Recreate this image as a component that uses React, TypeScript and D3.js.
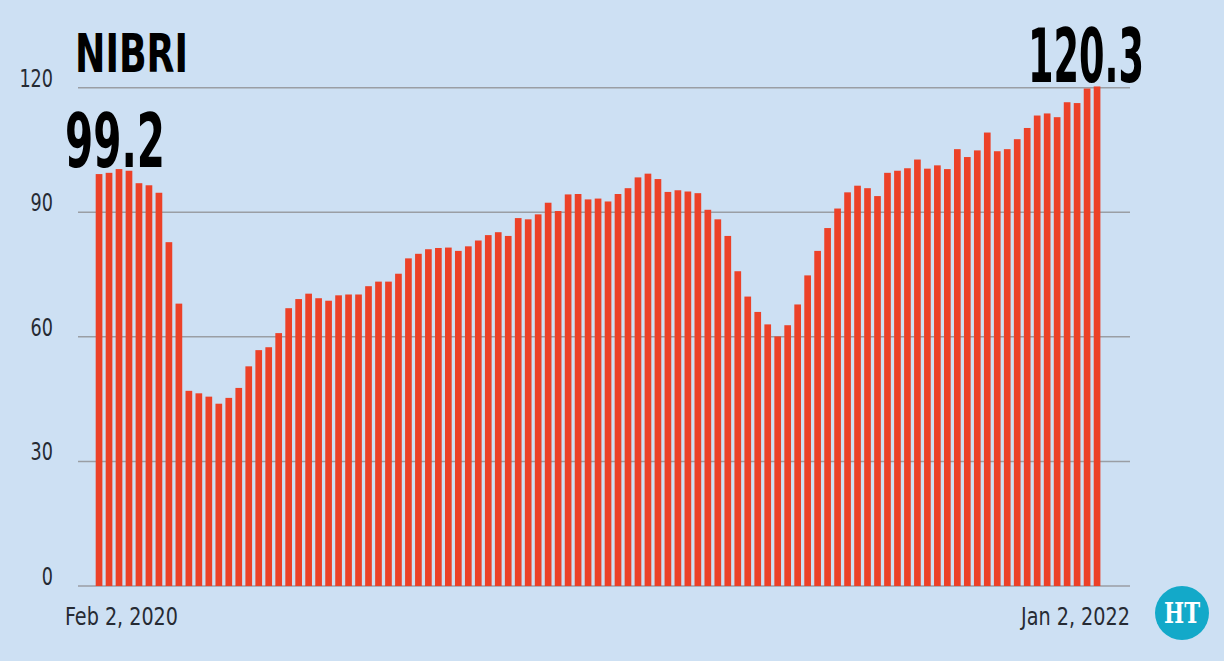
import React from "react";
import * as d3 from "d3";

const title = "NIBRI";
const startLabel = "Feb 2, 2020";
const endLabel = "Jan 2, 2022";
const firstValueLabel = "99.2";
const lastValueLabel = "120.3";
const yTicks = [0, 30, 60, 90, 120];

// Weekly NIBRI values, Feb 2, 2020 to Jan 2, 2022
const values = [
  99.2, 99.5, 100.4, 100.0, 97.0, 96.5, 94.7, 82.8, 68.0, 47.0,
  46.4, 45.6, 43.9, 45.3, 47.7, 52.9, 56.8, 57.5, 60.9, 66.9,
  69.1, 70.4, 69.3, 68.7, 70.0, 70.2, 70.2, 72.2, 73.3, 73.3,
  75.2, 78.9, 80.0, 81.1, 81.4, 81.5, 80.7, 81.8, 83.2, 84.5,
  85.2, 84.3, 88.6, 88.3, 89.5, 92.3, 90.3, 94.3, 94.4, 93.1,
  93.3, 92.6, 94.4, 95.8, 98.4, 99.3, 98.0, 94.9, 95.3, 95.0,
  94.6, 90.6, 88.3, 84.3, 75.8, 69.7, 66.0, 63.0, 60.1, 62.8,
  67.8, 74.8, 80.7, 86.2, 90.9, 94.8, 96.4, 95.8, 93.9, 99.5,
  100.0, 100.6, 102.7, 100.5, 101.3, 100.4, 105.2, 103.3, 104.9, 109.2,
  104.7, 105.2, 107.6, 110.3, 113.3, 113.8, 112.9, 116.5, 116.3, 119.8,
  120.3,
];
const weeks = values.map((_, i) => i);

const W = 1224;
const H = 661;
const BG = "#cde0f3";
const BAR = "#ec4128";
const GRID = "#9a9ea4";
const TEXT = "#262b33";
const NARROW = "'DejaVu Sans Condensed', 'DejaVu Sans', 'Open Sans', sans-serif";
const HEAVY = "'DejaVu Sans Condensed', 'DejaVu Sans', 'Liberation Sans', sans-serif";

export default function App() {
  const x = d3
    .scaleBand<number>()
    .domain(weeks)
    .range([94.05, 1102.05])
    .paddingInner(0.33)
    .paddingOuter(0.165);
  const y = d3.scaleLinear().domain([0, 120]).range([586, 87.7]);

  return (
    <svg
      width={W}
      height={H}
      style={{ position: "absolute", left: 0, top: 0, display: "block" }}
    >
      <rect x={0} y={0} width={W} height={H} fill={BG} />
      {yTicks.map((t) => (
        <g key={t}>
          <line x1={78} x2={1130} y1={y(t)} y2={y(t)} stroke={GRID} strokeWidth={1.5} />
          <text
            x={53}
            y={y(t) - 1}
            textAnchor="end"
            fontFamily={NARROW}
            fontSize={25}
            fill={TEXT}
            textLength={String(t).length * 11.2}
            lengthAdjust="spacingAndGlyphs"
          >
            {t}
          </text>
        </g>
      ))}
      {values.map((v, i) => (
        <rect
          key={i}
          x={x(i)}
          y={y(v)}
          width={x.bandwidth()}
          height={y(0) - y(v)}
          fill={BAR}
        />
      ))}
      <text
        x={75}
        y={72}
        fontFamily={HEAVY}
        fontWeight="bold"
        fontSize={53}
        fill="#000"
        textLength={113}
        lengthAdjust="spacingAndGlyphs"
      >
        {title}
      </text>
      <text
        x={65}
        y={167}
        fontFamily={HEAVY}
        fontWeight="bold"
        fontSize={74}
        fill="#000"
        textLength={100}
        lengthAdjust="spacingAndGlyphs"
      >
        {firstValueLabel}
      </text>
      <text
        x={1028}
        y={82}
        fontFamily={HEAVY}
        fontWeight="bold"
        fontSize={74}
        fill="#000"
        textLength={116}
        lengthAdjust="spacingAndGlyphs"
      >
        {lastValueLabel}
      </text>
      <text
        x={65}
        y={625}
        fontFamily={NARROW}
        fontSize={25}
        fill={TEXT}
        textLength={113}
        lengthAdjust="spacingAndGlyphs"
      >
        {startLabel}
      </text>
      <text
        x={1021}
        y={625}
        fontFamily={NARROW}
        fontSize={25}
        fill={TEXT}
        textLength={109}
        lengthAdjust="spacingAndGlyphs"
      >
        {endLabel}
      </text>
      <g transform="translate(1182,613)">
        <circle r={27} fill="#13a9c9" />
        <text
          y={10}
          textAnchor="middle"
          fontFamily="'DejaVu Serif', 'Liberation Serif', serif"
          fontWeight="bold"
          fontSize={27}
          fill="#fff"
          textLength={36}
          lengthAdjust="spacingAndGlyphs"
        >
          HT
        </text>
      </g>
    </svg>
  );
}
